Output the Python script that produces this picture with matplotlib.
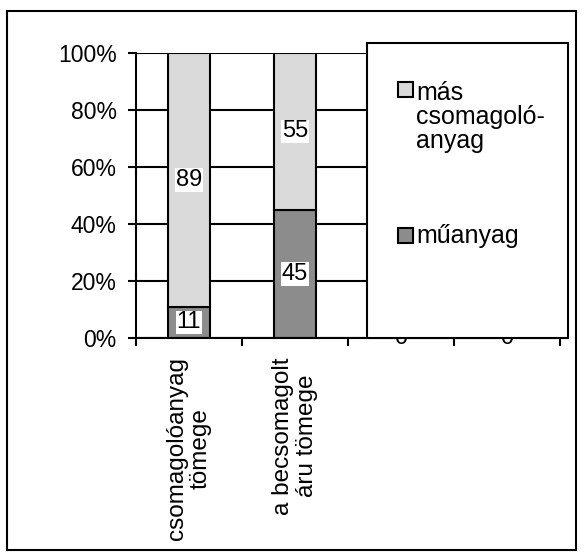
import matplotlib.pyplot as plt
from matplotlib.patches import Rectangle
import numpy as np

plt.rcParams['font.family'] = ['Liberation Sans', 'DejaVu Sans']

# data (percent of total)
categories = ['csomagolóanyag\ntömege', 'a becsomagolt\náru tömege', '', '']
series_names = ['műanyag', 'más\ncsomagoló-\nanyag']
muanyag = [11, 45, 0, 0]
mas = [89, 55, 0, 0]
colors = ['#8c8c8c', '#dadada']

W, H = 584, 558
fig = plt.figure(figsize=(W / 100, H / 100), dpi=100)


def fx(px):
    return px / W


def fy(py):
    return 1 - py / H


# outer frame
fig.patches.append(Rectangle((fx(7), fy(550)), fx(576 - 7), (550 - 10.5) / H,
                             transform=fig.transFigure, facecolor='none',
                             edgecolor='black', linewidth=1.5, zorder=0))

ax = fig.add_axes([fx(136), fy(338), fx(560 - 136), (338 - 53) / H])

x = np.arange(len(categories))
fs = 16.5
bw = 0.39

bottom = np.zeros(len(categories))
for name, vals, col in zip(series_names, [muanyag, mas], colors):
    vals = np.array(vals, dtype=float)
    ax.bar(x, vals, bw, bottom=bottom, color=col, edgecolor='black', linewidth=1.5, zorder=2)
    for xi, b, v in zip(x, bottom, vals):
        ax.text(xi, b + v / 2, f'{v:.0f}', ha='center', va='center', fontsize=17, zorder=3,
                bbox=dict(facecolor='white', edgecolor='none', pad=0.5))
    bottom += vals

ax.set_xlim(-0.5, len(categories) - 0.5)
ax.set_ylim(0, 100)
ax.set_yticks([0, 20, 40, 60, 80, 100])
ax.set_yticklabels(['0%', '20%', '40%', '60%', '80%', '100%'], fontsize=fs)
ax.yaxis.grid(True, color='black', linewidth=1.5)
ax.set_axisbelow(True)

ax.set_xticks(x)
ax.set_xticklabels(categories, rotation=90, fontsize=17.5, va='top', ha='center',
                   linespacing=1.12)
ax.set_xticks(np.arange(-0.5, len(categories)), minor=True)
ax.tick_params(axis='x', which='major', length=0, pad=14)
ax.tick_params(axis='x', which='minor', length=6, width=1.5, direction='out')
ax.tick_params(axis='y', length=6, width=1.5, direction='out', pad=8)

for s in ['top', 'right']:
    ax.spines[s].set_visible(False)
for s in ['left', 'bottom']:
    ax.spines[s].set_linewidth(1.5)

# legend box, drawn over the plot area
fig.patches.append(Rectangle((fx(367), fy(338)), fx(568 - 367), (338 - 43) / H,
                             transform=fig.transFigure, facecolor='white',
                             edgecolor='black', linewidth=1.5, zorder=5))

# (label, colour, handle top px, baseline of last line px)
legend_rows = [(series_names[1], colors[1], 82, 148), (series_names[0], colors[0], 228, 243)]
for label, col, handle_top, baseline in legend_rows:
    fig.patches.append(Rectangle((fx(397.5), fy(handle_top + 15)), fx(15), 15 / H,
                                 transform=fig.transFigure, facecolor=col,
                                 edgecolor='black', linewidth=1.5, zorder=6))
    fig.text(fx(416), fy(baseline), label, fontsize=18, va='baseline', ha='left',
             linespacing=0.99, zorder=6)

fig.savefig('out.png', dpi=100)
